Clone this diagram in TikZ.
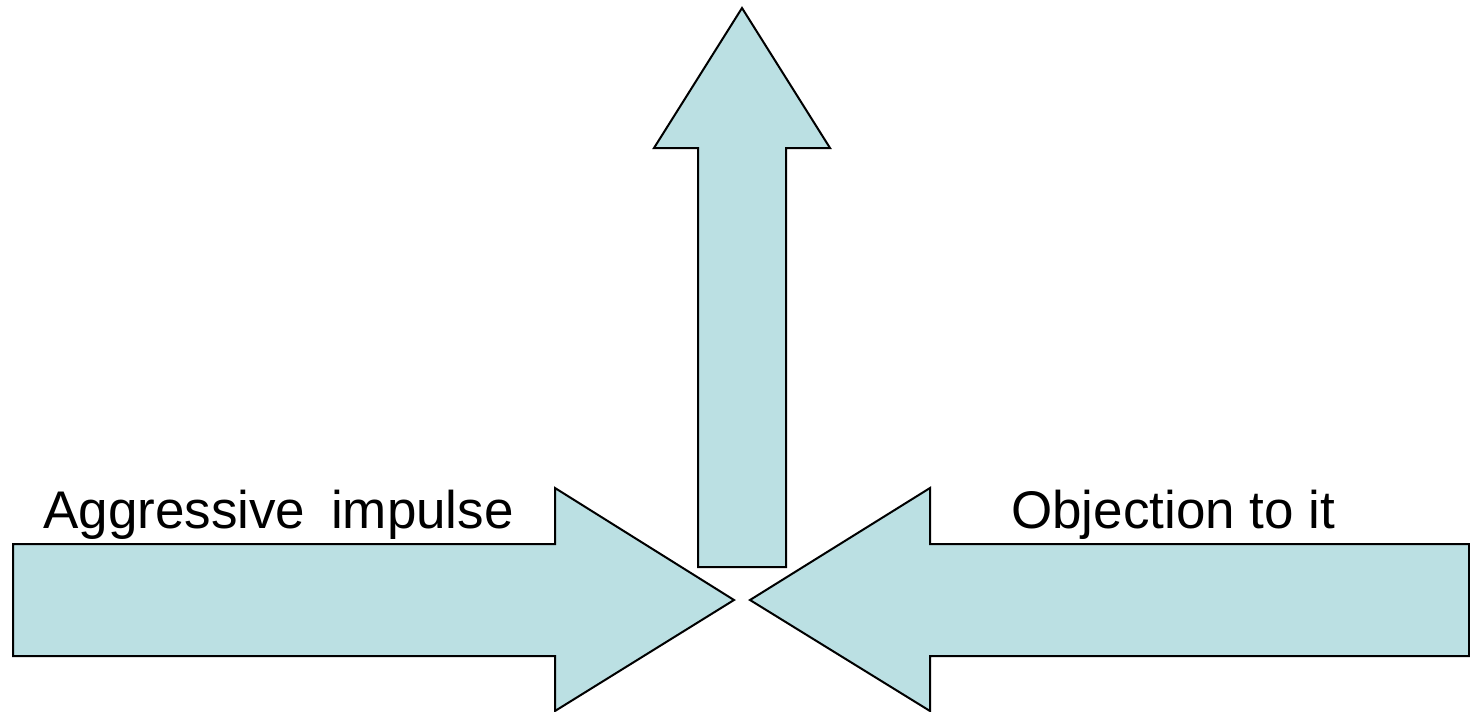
\documentclass[tikz,border=0pt]{standalone}
\usepackage{fontspec}
\setmainfont{Liberation Sans}
\definecolor{arrowfill}{HTML}{BBE0E3}
\tikzset{
  bigarrow/.style={draw=black, fill=arrowfill, line width=2pt, line join=miter},
  label/.style={inner sep=0pt, anchor=base west, font=\fontsize{53}{60}\selectfont}
}
\begin{document}
\begin{tikzpicture}[x=1pt,y=-1pt]
\useasboundingbox (0,0) rectangle (1470,712);
% left arrow pointing right
\draw[bigarrow] (13,544) -- (555,544) -- (555,488) -- (734,600) -- (555,711) -- (555,656) -- (13,656) -- cycle;
\coordinate (lefttip) at (734,600);
% right arrow pointing left
\draw[bigarrow] (1469,544) -- (930,544) -- (930,488) -- (750,600) -- (930,711) -- (930,656) -- (1469,656) -- cycle;
\coordinate (righttip) at (750,600);
% up arrow
\draw[bigarrow] (698,567) -- (698,148) -- (654,148) -- (742,8) -- (830,148) -- (786,148) -- (786,567) -- cycle;
\coordinate (uptip) at (742,8);
\node[label] (agg) at (43,528) {Aggressive\hspace{0.21em} impulse};
\node[label] (obj) at (1011,528) {Objection to it};
\end{tikzpicture}
\end{document}
